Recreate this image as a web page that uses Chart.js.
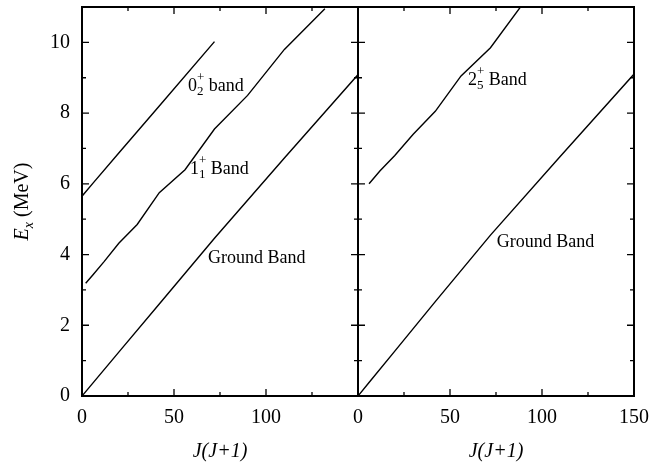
<!DOCTYPE html>
<html>
<head>
<meta charset="utf-8">
<title>Band energies vs J(J+1)</title>
<script src="https://cdn.jsdelivr.net/npm/chart.js@4.4.1/dist/chart.umd.min.js"></script>
<style>
  html, body { margin: 0; padding: 0; background: #fff; }
  #wrap { position: relative; width: 655px; height: 464px; }
  canvas { position: absolute; left: 0; top: 0; }
</style>
</head>
<body>
<div id="wrap">
  <canvas id="leftChart" width="655" height="464"></canvas>
  <canvas id="rightChart" width="655" height="464"></canvas>
</div>
<script>
// left panel
const leftGroundX = [0, 6, 20, 42, 72, 110, 156];
const leftGroundY = [0, 0.37, 1.24, 2.6, 4.46, 6.73, 9.44];
const band02X = [0, 6, 20, 42, 72];
const band02Y = [5.65, 6.02, 6.87, 8.2, 10.02];
const band11X = [2, 6, 12, 20, 30, 42, 56, 72, 90, 110, 132];
const band11Y = [3.19, 3.43, 3.8, 4.32, 4.85, 5.75, 6.4, 7.55, 8.5, 9.8, 10.95];

// right panel
const rightGroundX = [0, 6, 20, 42, 72, 110, 156];
const rightGroundY = [0, 0.38, 1.27, 2.67, 4.55, 6.78, 9.45];
const band25X = [6, 12, 20, 30, 42, 56, 72, 90];
const band25Y = [6.0, 6.37, 6.8, 7.4, 8.05, 9.05, 9.85, 11.12];

// axes
const xMajor = [0, 50, 100, 150];
const xMinor = [25, 75, 125];
const yMajor = [0, 2, 4, 6, 8, 10];
const yMinor = [1, 3, 5, 7, 9];

const FONT = "'Liberation Serif', 'Times New Roman', serif";

function pts(xs, ys) {
  return xs.map((x, i) => ({ x: x, y: ys[i] }));
}

function line(xs, ys) {
  return {
    data: pts(xs, ys),
    showLine: true,
    borderColor: '#000',
    borderWidth: 1.4,
    pointRadius: 0,
    tension: 0
  };
}

// label like 0_2^+ band
function drawBandLabel(ctx, x, y, main, sub, sup, rest) {
  ctx.fillStyle = '#000';
  ctx.textBaseline = 'alphabetic';
  ctx.textAlign = 'left';
  let cx = x;
  if (main) {
    ctx.font = '18px ' + FONT;
    ctx.fillText(main, cx, y);
    cx += ctx.measureText(main).width;
    ctx.font = '13px ' + FONT;
    const w1 = ctx.measureText(sub).width;
    const w2 = ctx.measureText(sup).width;
    ctx.fillText(sup, cx, y - 10);
    ctx.fillText(sub, cx, y + 4);
    cx += Math.max(w1, w2);
  }
  ctx.font = '18px ' + FONT;
  ctx.fillText(rest, cx, y);
}

function framePlugin(labels, withYTitle) {
  return {
    id: 'frame',
    afterDraw(chart) {
      const ctx = chart.ctx;
      const ca = chart.chartArea;
      const xs = chart.scales.x;
      const ys = chart.scales.y;
      ctx.save();
      ctx.strokeStyle = '#000';

      // inward ticks on all sides
      ctx.lineWidth = 1.3;
      ctx.beginPath();
      xMajor.concat(xMinor).forEach(v => {
        const len = xMajor.includes(v) ? 7 : 4;
        const px = xs.getPixelForValue(v);
        ctx.moveTo(px, ca.bottom); ctx.lineTo(px, ca.bottom - len);
        ctx.moveTo(px, ca.top); ctx.lineTo(px, ca.top + len);
      });
      yMajor.concat(yMinor).forEach(v => {
        const len = yMajor.includes(v) ? 7 : 4;
        const py = ys.getPixelForValue(v);
        ctx.moveTo(ca.left, py); ctx.lineTo(ca.left + len, py);
        ctx.moveTo(ca.right, py); ctx.lineTo(ca.right - len, py);
      });
      ctx.stroke();

      ctx.lineWidth = 2;
      ctx.strokeRect(ca.left, ca.top, ca.right - ca.left, ca.bottom - ca.top);

      labels.forEach(l => {
        drawBandLabel(ctx, xs.getPixelForValue(l.x), ys.getPixelForValue(l.y), l.main, l.sub, l.sup, l.rest);
      });

      if (withYTitle) {
        ctx.translate(23, (ca.top + ca.bottom) / 2);
        ctx.rotate(-Math.PI / 2);
        ctx.fillStyle = '#000';
        ctx.textBaseline = 'middle';
        ctx.font = 'italic 20px ' + FONT;
        const wE = ctx.measureText('E').width;
        ctx.font = 'italic 14px ' + FONT;
        const wx = ctx.measureText('x').width;
        ctx.font = '20px ' + FONT;
        const wR = ctx.measureText(' (MeV)').width;
        let cx = -(wE + wx + wR) / 2;
        ctx.font = 'italic 20px ' + FONT;
        ctx.fillText('E', cx, 0);
        cx += wE;
        ctx.font = 'italic 14px ' + FONT;
        ctx.fillText('x', cx, 6);
        cx += wx;
        ctx.font = '20px ' + FONT;
        ctx.fillText(' (MeV)', cx, 0);
      }
      ctx.restore();
    }
  };
}

function makeOptions(pad, showY, hideLastX) {
  return {
    responsive: false,
    animation: false,
    layout: { padding: pad },
    plugins: { legend: { display: false }, tooltip: { enabled: false } },
    scales: {
      x: {
        type: 'linear',
        min: 0,
        max: 150,
        grid: { display: false, drawTicks: false },
        border: { display: false },
        ticks: {
          stepSize: 50,
          padding: 10,
          color: '#000',
          font: { family: FONT, size: 20 },
          maxRotation: 0,
          callback: v => (hideLastX && v === 150) ? '' : v
        },
        title: {
          display: true,
          text: 'J(J+1)',
          color: '#000',
          font: { family: FONT, size: 20, style: 'italic' },
          padding: { top: 0, bottom: 0 }
        },
        afterFit: s => {
          s.height = 68;
          s.paddingLeft = 0;
          s.paddingRight = 0;
        }
      },
      y: {
        type: 'linear',
        display: showY,
        min: 0,
        max: 11,
        grid: { display: false, drawTicks: false },
        border: { display: false },
        ticks: {
          stepSize: 2,
          padding: 12,
          color: '#000',
          font: { family: FONT, size: 20 },
          callback: v => v % 2 === 0 ? v : ''
        },
        afterFit: s => {
          s.width = showY ? 82 : 0;
          s.paddingTop = 0;
          s.paddingBottom = 0;
        }
      }
    }
  };
}

new Chart(document.getElementById('leftChart'), {
  type: 'scatter',
  data: {
    datasets: [
      line(leftGroundX, leftGroundY),
      line(band02X, band02Y),
      line(band11X, band11Y)
    ]
  },
  options: makeOptions({ left: 0, right: 297, top: 7, bottom: 0 }, true, true),
  plugins: [framePlugin([
    { x: 57.6, y: 8.62, main: '0', sub: '2', sup: '+', rest: ' band' },
    { x: 58.7, y: 6.27, main: '1', sub: '1', sup: '+', rest: ' Band' },
    { x: 68.5, y: 3.77, main: '', sub: '', sup: '', rest: 'Ground Band' }
  ], true)]
});

new Chart(document.getElementById('rightChart'), {
  type: 'scatter',
  data: {
    datasets: [
      line(rightGroundX, rightGroundY),
      line(band25X, band25Y)
    ]
  },
  options: makeOptions({ left: 358, right: 21, top: 7, bottom: 0 }, false, false),
  plugins: [framePlugin([
    { x: 59.8, y: 8.79, main: '2', sub: '5', sup: '+', rest: ' Band' },
    { x: 75.4, y: 4.22, main: '', sub: '', sup: '', rest: 'Ground Band' }
  ], false)]
});
</script>
</body>
</html>
